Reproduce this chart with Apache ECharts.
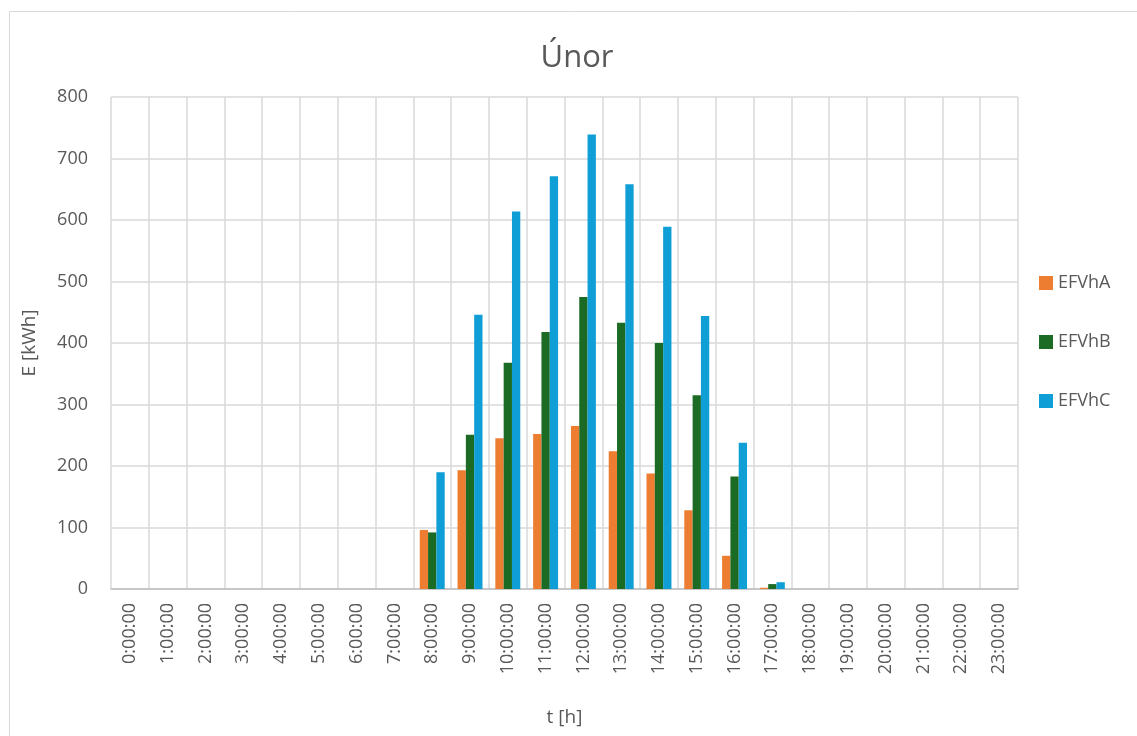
<!DOCTYPE html>
<html lang="cs">
<head>
    <meta charset="UTF-8">
    <title>Únor</title>
    <script src="https://cdn.jsdelivr.net/npm/echarts@6/dist/echarts.min.js"></script>
    <style>
        html, body { margin: 0; padding: 0; background: #fff; }
        #main { width: 1137px; height: 736px; }
    </style>
</head>
<body>
    <div id="main"></div>
    <script>
        var hours = ['0:00:00', '1:00:00', '2:00:00', '3:00:00', '4:00:00', '5:00:00', '6:00:00', '7:00:00',
            '8:00:00', '9:00:00', '10:00:00', '11:00:00', '12:00:00', '13:00:00', '14:00:00', '15:00:00',
            '16:00:00', '17:00:00', '18:00:00', '19:00:00', '20:00:00', '21:00:00', '22:00:00', '23:00:00'];
        var efvhA = [0, 0, 0, 0, 0, 0, 0, 0, 96, 193, 245, 252, 265, 224, 188, 128, 54, 2, 0, 0, 0, 0, 0, 0];
        var efvhB = [0, 0, 0, 0, 0, 0, 0, 0, 92, 251, 368, 418, 475, 433, 400, 315, 183, 8, 0, 0, 0, 0, 0, 0];
        var efvhC = [0, 0, 0, 0, 0, 0, 0, 0, 190, 446, 614, 671, 739, 658, 589, 444, 238, 11, 0, 0, 0, 0, 0, 0];
        var seriesNames = ['EFVhA', 'EFVhB', 'EFVhC'];
        var colors = ['#ED7D31', '#1C6B25', '#0F9ED5'];

        var txt = '#595959';
        var font = '"Open Sans", "Liberation Sans", sans-serif';

        var myChart = echarts.init(document.getElementById('main'));
        var option = {
            animation: false,
            color: colors,
            textStyle: { fontFamily: font, color: txt },
            graphic: [{
                type: 'rect',
                shape: { x: 9.5, y: 11.5, width: 1140, height: 740 },
                style: { fill: 'none', stroke: '#d9d9d9', lineWidth: 1 },
                silent: true
            }],
            title: {
                text: 'Únor',
                left: 572,
                textAlign: 'center',
                top: 38,
                textStyle: { fontFamily: font, fontSize: 31, fontWeight: 'normal', color: txt }
            },
            legend: {
                orient: 'vertical',
                left: 1034,
                top: 269,
                itemWidth: 14,
                itemHeight: 14,
                itemGap: 41,
                icon: 'rect',
                textStyle: { fontFamily: font, fontSize: 18, color: txt },
                data: seriesNames
            },
            grid: { left: 111, right: 119, top: 97, bottom: 147, containLabel: false },
            xAxis: {
                type: 'category',
                data: hours,
                name: 't [h]',
                nameLocation: 'middle',
                nameGap: 119,
                nameTextStyle: { fontFamily: font, fontSize: 19, color: txt },
                axisLine: { lineStyle: { color: '#bfbfbf', width: 1.5 } },
                axisTick: { show: false },
                axisLabel: { interval: 0, rotate: 90, fontSize: 18, color: txt, margin: 14, fontFamily: font },
                splitLine: { show: true, interval: 0, lineStyle: { color: '#d9d9d9', width: 1.5 } }
            },
            yAxis: {
                type: 'value',
                min: 0,
                max: 800,
                interval: 100,
                name: 'E [kWh]',
                nameLocation: 'middle',
                nameGap: 72,
                nameTextStyle: { fontFamily: font, fontSize: 19, color: txt },
                axisLine: { show: false },
                axisTick: { show: false },
                axisLabel: { fontSize: 18, color: txt, margin: 23, fontFamily: font },
                splitLine: { lineStyle: { color: '#d9d9d9', width: 1.5 } }
            },
            series: [
                { name: seriesNames[0], type: 'bar', data: efvhA, barGap: '0%', barCategoryGap: '34%' },
                { name: seriesNames[1], type: 'bar', data: efvhB, barGap: '0%', barCategoryGap: '34%' },
                { name: seriesNames[2], type: 'bar', data: efvhC, barGap: '0%', barCategoryGap: '34%' }
            ]
        };
        myChart.setOption(option);
    </script>
</body>
</html>
